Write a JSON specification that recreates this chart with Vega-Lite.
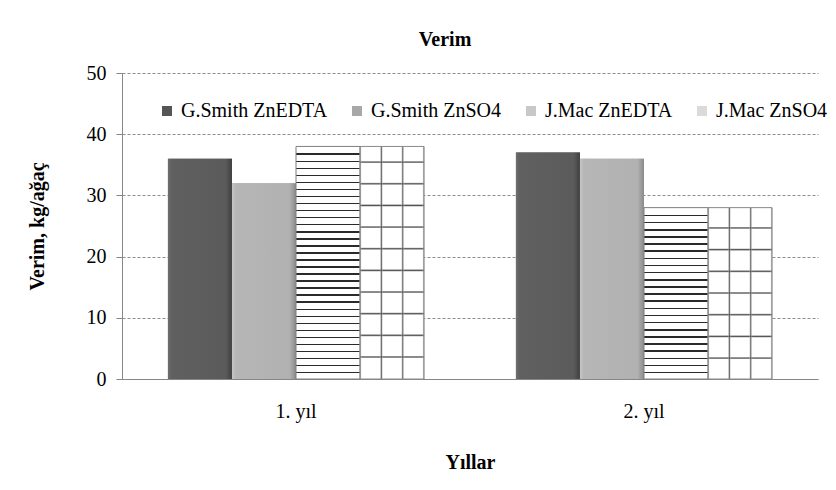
{
  "$schema": "https://vega.github.io/schema/vega-lite/v6.json",
  "autosize": {"type": "none"},
  "width": 696,
  "height": 306,
  "padding": {"left": 122, "top": 73, "right": 18, "bottom": 111},
  "background": "white",
  "title": {"text": "Verim", "font": "Liberation Serif", "fontSize": 20, "fontWeight": "bold", "color": "black", "offset": 13, "dx": -25},
  "config": {"view": {"stroke": null}, "font": "Liberation Serif", "legend": {"labelFont": "Liberation Serif"}},
  "data": {"values": [
    {"Yil": "1. yıl", "Seri": "G.Smith ZnEDTA", "Verim": 36},
    {"Yil": "1. yıl", "Seri": "G.Smith ZnSO4", "Verim": 32},
    {"Yil": "1. yıl", "Seri": "J.Mac ZnEDTA", "Verim": 38},
    {"Yil": "1. yıl", "Seri": "J.Mac ZnSO4", "Verim": 38},
    {"Yil": "2. yıl", "Seri": "G.Smith ZnEDTA", "Verim": 37},
    {"Yil": "2. yıl", "Seri": "G.Smith ZnSO4", "Verim": 36},
    {"Yil": "2. yıl", "Seri": "J.Mac ZnEDTA", "Verim": 28},
    {"Yil": "2. yıl", "Seri": "J.Mac ZnSO4", "Verim": 28}
  ]},
  "encoding": {
    "x": {"field": "Yil", "type": "nominal", "title": "Yıllar",
      "scale": {"paddingInner": 0.264, "paddingOuter": 0.132},
      "axis": {"labelAngle": 0, "ticks": false, "domainColor": "#868686", "labelFont": "Liberation Serif", "labelFontSize": 20, "labelColor": "black", "labelPadding": 22, "titleFont": "Liberation Serif", "titleFontSize": 20, "titleFontWeight": "bold", "titleColor": "black", "titlePadding": 31}},
    "xOffset": {"field": "Seri", "type": "nominal", "scale": {"domain": ["G.Smith ZnEDTA", "G.Smith ZnSO4", "J.Mac ZnEDTA", "J.Mac ZnSO4"], "paddingInner": 0, "paddingOuter": 0}},
    "y": {"field": "Verim", "type": "quantitative", "title": "Verim, kg/ağaç",
      "scale": {"domain": [0, 50]},
      "axis": {"values": [0, 10, 20, 30, 40, 50], "grid": true, "gridDash": [3, 2], "gridColor": "#8c8c8c", "domainColor": "#868686", "tickColor": "#868686", "tickSize": 6, "labelFont": "Liberation Serif", "labelFontSize": 20, "labelColor": "black", "labelPadding": 10, "titleFont": "Liberation Serif", "titleFontSize": 20, "titleFontWeight": "bold", "titleColor": "black", "titlePadding": 39}}
  },
  "layer": [
    {
      "mark": {"type": "bar"},
      "encoding": {
        "color": {"field": "Seri", "type": "nominal",
          "scale": {"domain": ["G.Smith ZnEDTA", "G.Smith ZnSO4", "J.Mac ZnEDTA", "J.Mac ZnSO4"], "range": ["#555555", "#a8a8a8", "#c8c8c8", "#dadada"]},
          "legend": {"orient": "none", "legendX": 35, "legendY": 28, "padding": 0, "direction": "horizontal", "title": null, "symbolType": "square", "symbolSize": 100, "symbolStrokeWidth": 0, "labelFont": "Liberation Serif", "labelFontSize": 20, "labelColor": "black", "labelOffset": 4, "columnPadding": 19}}
      }
    },
    {
      "transform": [{"filter": "datum.Seri === 'G.Smith ZnEDTA'"}],
      "mark": {"type": "bar", "color": {"gradient": "linear", "x1": 0, "y1": 0, "x2": 1, "y2": 0, "stops": [{"offset": 0, "color": "#6e6e6e"}, {"offset": 0.06, "color": "#606060"}, {"offset": 0.9, "color": "#5b5b5b"}, {"offset": 1, "color": "#404040"}]}}
    },
    {
      "transform": [{"filter": "datum.Seri === 'G.Smith ZnSO4'"}],
      "mark": {"type": "bar", "color": {"gradient": "linear", "x1": 0, "y1": 0, "x2": 1, "y2": 0, "stops": [{"offset": 0, "color": "#c6c6c6"}, {"offset": 0.06, "color": "#b6b6b6"}, {"offset": 0.9, "color": "#b1b1b1"}, {"offset": 1, "color": "#8a8a8a"}]}}
    },
    {
      "transform": [{"filter": "datum.Seri === 'J.Mac ZnEDTA' && datum.Yil === '1. yıl'"}],
      "mark": {"type": "bar", "stroke": "#7f7f7f", "strokeWidth": 1, "color": {"gradient": "linear", "x1": 0, "y1": 0, "x2": 0, "y2": 1, "stops": [
        {"offset": 0.0303, "color": "#ffffff"}, {"offset": 0.0303, "color": "#2a2a2a"}, {"offset": 0.0368, "color": "#2a2a2a"}, {"offset": 0.0368, "color": "#ffffff"},
        {"offset": 0.0606, "color": "#ffffff"}, {"offset": 0.0606, "color": "#2a2a2a"}, {"offset": 0.0671, "color": "#2a2a2a"}, {"offset": 0.0671, "color": "#ffffff"},
        {"offset": 0.0909, "color": "#ffffff"}, {"offset": 0.0909, "color": "#2a2a2a"}, {"offset": 0.0974, "color": "#2a2a2a"}, {"offset": 0.0974, "color": "#ffffff"},
        {"offset": 0.1212, "color": "#ffffff"}, {"offset": 0.1212, "color": "#2a2a2a"}, {"offset": 0.1277, "color": "#2a2a2a"}, {"offset": 0.1277, "color": "#ffffff"},
        {"offset": 0.1515, "color": "#ffffff"}, {"offset": 0.1515, "color": "#2a2a2a"}, {"offset": 0.1580, "color": "#2a2a2a"}, {"offset": 0.1580, "color": "#ffffff"},
        {"offset": 0.1818, "color": "#ffffff"}, {"offset": 0.1818, "color": "#2a2a2a"}, {"offset": 0.1883, "color": "#2a2a2a"}, {"offset": 0.1883, "color": "#ffffff"},
        {"offset": 0.2121, "color": "#ffffff"}, {"offset": 0.2121, "color": "#2a2a2a"}, {"offset": 0.2186, "color": "#2a2a2a"}, {"offset": 0.2186, "color": "#ffffff"},
        {"offset": 0.2424, "color": "#ffffff"}, {"offset": 0.2424, "color": "#2a2a2a"}, {"offset": 0.2489, "color": "#2a2a2a"}, {"offset": 0.2489, "color": "#ffffff"},
        {"offset": 0.2727, "color": "#ffffff"}, {"offset": 0.2727, "color": "#2a2a2a"}, {"offset": 0.2792, "color": "#2a2a2a"}, {"offset": 0.2792, "color": "#ffffff"},
        {"offset": 0.3030, "color": "#ffffff"}, {"offset": 0.3030, "color": "#2a2a2a"}, {"offset": 0.3095, "color": "#2a2a2a"}, {"offset": 0.3095, "color": "#ffffff"},
        {"offset": 0.3333, "color": "#ffffff"}, {"offset": 0.3333, "color": "#2a2a2a"}, {"offset": 0.3398, "color": "#2a2a2a"}, {"offset": 0.3398, "color": "#ffffff"},
        {"offset": 0.3636, "color": "#ffffff"}, {"offset": 0.3636, "color": "#2a2a2a"}, {"offset": 0.3701, "color": "#2a2a2a"}, {"offset": 0.3701, "color": "#ffffff"},
        {"offset": 0.3939, "color": "#ffffff"}, {"offset": 0.3939, "color": "#2a2a2a"}, {"offset": 0.4004, "color": "#2a2a2a"}, {"offset": 0.4004, "color": "#ffffff"},
        {"offset": 0.4242, "color": "#ffffff"}, {"offset": 0.4242, "color": "#2a2a2a"}, {"offset": 0.4307, "color": "#2a2a2a"}, {"offset": 0.4307, "color": "#ffffff"},
        {"offset": 0.4545, "color": "#ffffff"}, {"offset": 0.4545, "color": "#2a2a2a"}, {"offset": 0.4610, "color": "#2a2a2a"}, {"offset": 0.4610, "color": "#ffffff"},
        {"offset": 0.4848, "color": "#ffffff"}, {"offset": 0.4848, "color": "#2a2a2a"}, {"offset": 0.4913, "color": "#2a2a2a"}, {"offset": 0.4913, "color": "#ffffff"},
        {"offset": 0.5152, "color": "#ffffff"}, {"offset": 0.5152, "color": "#2a2a2a"}, {"offset": 0.5217, "color": "#2a2a2a"}, {"offset": 0.5217, "color": "#ffffff"},
        {"offset": 0.5455, "color": "#ffffff"}, {"offset": 0.5455, "color": "#2a2a2a"}, {"offset": 0.5520, "color": "#2a2a2a"}, {"offset": 0.5520, "color": "#ffffff"},
        {"offset": 0.5758, "color": "#ffffff"}, {"offset": 0.5758, "color": "#2a2a2a"}, {"offset": 0.5823, "color": "#2a2a2a"}, {"offset": 0.5823, "color": "#ffffff"},
        {"offset": 0.6061, "color": "#ffffff"}, {"offset": 0.6061, "color": "#2a2a2a"}, {"offset": 0.6126, "color": "#2a2a2a"}, {"offset": 0.6126, "color": "#ffffff"},
        {"offset": 0.6364, "color": "#ffffff"}, {"offset": 0.6364, "color": "#2a2a2a"}, {"offset": 0.6429, "color": "#2a2a2a"}, {"offset": 0.6429, "color": "#ffffff"},
        {"offset": 0.6667, "color": "#ffffff"}, {"offset": 0.6667, "color": "#2a2a2a"}, {"offset": 0.6732, "color": "#2a2a2a"}, {"offset": 0.6732, "color": "#ffffff"},
        {"offset": 0.6970, "color": "#ffffff"}, {"offset": 0.6970, "color": "#2a2a2a"}, {"offset": 0.7035, "color": "#2a2a2a"}, {"offset": 0.7035, "color": "#ffffff"},
        {"offset": 0.7273, "color": "#ffffff"}, {"offset": 0.7273, "color": "#2a2a2a"}, {"offset": 0.7338, "color": "#2a2a2a"}, {"offset": 0.7338, "color": "#ffffff"},
        {"offset": 0.7576, "color": "#ffffff"}, {"offset": 0.7576, "color": "#2a2a2a"}, {"offset": 0.7641, "color": "#2a2a2a"}, {"offset": 0.7641, "color": "#ffffff"},
        {"offset": 0.7879, "color": "#ffffff"}, {"offset": 0.7879, "color": "#2a2a2a"}, {"offset": 0.7944, "color": "#2a2a2a"}, {"offset": 0.7944, "color": "#ffffff"},
        {"offset": 0.8182, "color": "#ffffff"}, {"offset": 0.8182, "color": "#2a2a2a"}, {"offset": 0.8247, "color": "#2a2a2a"}, {"offset": 0.8247, "color": "#ffffff"},
        {"offset": 0.8485, "color": "#ffffff"}, {"offset": 0.8485, "color": "#2a2a2a"}, {"offset": 0.8550, "color": "#2a2a2a"}, {"offset": 0.8550, "color": "#ffffff"},
        {"offset": 0.8788, "color": "#ffffff"}, {"offset": 0.8788, "color": "#2a2a2a"}, {"offset": 0.8853, "color": "#2a2a2a"}, {"offset": 0.8853, "color": "#ffffff"},
        {"offset": 0.9091, "color": "#ffffff"}, {"offset": 0.9091, "color": "#2a2a2a"}, {"offset": 0.9156, "color": "#2a2a2a"}, {"offset": 0.9156, "color": "#ffffff"},
        {"offset": 0.9394, "color": "#ffffff"}, {"offset": 0.9394, "color": "#2a2a2a"}, {"offset": 0.9459, "color": "#2a2a2a"}, {"offset": 0.9459, "color": "#ffffff"},
        {"offset": 0.9697, "color": "#ffffff"}, {"offset": 0.9697, "color": "#2a2a2a"}, {"offset": 0.9762, "color": "#2a2a2a"}, {"offset": 0.9762, "color": "#ffffff"}
      ]}}
    },
    {
      "transform": [{"filter": "datum.Seri === 'J.Mac ZnEDTA' && datum.Yil === '2. yıl'"}],
      "mark": {"type": "bar", "stroke": "#7f7f7f", "strokeWidth": 1, "color": {"gradient": "linear", "x1": 0, "y1": 0, "x2": 0, "y2": 1, "stops": [
        {"offset": 0.0417, "color": "#ffffff"}, {"offset": 0.0417, "color": "#2a2a2a"}, {"offset": 0.0505, "color": "#2a2a2a"}, {"offset": 0.0505, "color": "#ffffff"},
        {"offset": 0.0833, "color": "#ffffff"}, {"offset": 0.0833, "color": "#2a2a2a"}, {"offset": 0.0921, "color": "#2a2a2a"}, {"offset": 0.0921, "color": "#ffffff"},
        {"offset": 0.1250, "color": "#ffffff"}, {"offset": 0.1250, "color": "#2a2a2a"}, {"offset": 0.1338, "color": "#2a2a2a"}, {"offset": 0.1338, "color": "#ffffff"},
        {"offset": 0.1667, "color": "#ffffff"}, {"offset": 0.1667, "color": "#2a2a2a"}, {"offset": 0.1755, "color": "#2a2a2a"}, {"offset": 0.1755, "color": "#ffffff"},
        {"offset": 0.2083, "color": "#ffffff"}, {"offset": 0.2083, "color": "#2a2a2a"}, {"offset": 0.2171, "color": "#2a2a2a"}, {"offset": 0.2171, "color": "#ffffff"},
        {"offset": 0.2500, "color": "#ffffff"}, {"offset": 0.2500, "color": "#2a2a2a"}, {"offset": 0.2588, "color": "#2a2a2a"}, {"offset": 0.2588, "color": "#ffffff"},
        {"offset": 0.2917, "color": "#ffffff"}, {"offset": 0.2917, "color": "#2a2a2a"}, {"offset": 0.3005, "color": "#2a2a2a"}, {"offset": 0.3005, "color": "#ffffff"},
        {"offset": 0.3333, "color": "#ffffff"}, {"offset": 0.3333, "color": "#2a2a2a"}, {"offset": 0.3421, "color": "#2a2a2a"}, {"offset": 0.3421, "color": "#ffffff"},
        {"offset": 0.3750, "color": "#ffffff"}, {"offset": 0.3750, "color": "#2a2a2a"}, {"offset": 0.3838, "color": "#2a2a2a"}, {"offset": 0.3838, "color": "#ffffff"},
        {"offset": 0.4167, "color": "#ffffff"}, {"offset": 0.4167, "color": "#2a2a2a"}, {"offset": 0.4255, "color": "#2a2a2a"}, {"offset": 0.4255, "color": "#ffffff"},
        {"offset": 0.4583, "color": "#ffffff"}, {"offset": 0.4583, "color": "#2a2a2a"}, {"offset": 0.4671, "color": "#2a2a2a"}, {"offset": 0.4671, "color": "#ffffff"},
        {"offset": 0.5000, "color": "#ffffff"}, {"offset": 0.5000, "color": "#2a2a2a"}, {"offset": 0.5088, "color": "#2a2a2a"}, {"offset": 0.5088, "color": "#ffffff"},
        {"offset": 0.5417, "color": "#ffffff"}, {"offset": 0.5417, "color": "#2a2a2a"}, {"offset": 0.5505, "color": "#2a2a2a"}, {"offset": 0.5505, "color": "#ffffff"},
        {"offset": 0.5833, "color": "#ffffff"}, {"offset": 0.5833, "color": "#2a2a2a"}, {"offset": 0.5921, "color": "#2a2a2a"}, {"offset": 0.5921, "color": "#ffffff"},
        {"offset": 0.6250, "color": "#ffffff"}, {"offset": 0.6250, "color": "#2a2a2a"}, {"offset": 0.6338, "color": "#2a2a2a"}, {"offset": 0.6338, "color": "#ffffff"},
        {"offset": 0.6667, "color": "#ffffff"}, {"offset": 0.6667, "color": "#2a2a2a"}, {"offset": 0.6755, "color": "#2a2a2a"}, {"offset": 0.6755, "color": "#ffffff"},
        {"offset": 0.7083, "color": "#ffffff"}, {"offset": 0.7083, "color": "#2a2a2a"}, {"offset": 0.7171, "color": "#2a2a2a"}, {"offset": 0.7171, "color": "#ffffff"},
        {"offset": 0.7500, "color": "#ffffff"}, {"offset": 0.7500, "color": "#2a2a2a"}, {"offset": 0.7588, "color": "#2a2a2a"}, {"offset": 0.7588, "color": "#ffffff"},
        {"offset": 0.7917, "color": "#ffffff"}, {"offset": 0.7917, "color": "#2a2a2a"}, {"offset": 0.8005, "color": "#2a2a2a"}, {"offset": 0.8005, "color": "#ffffff"},
        {"offset": 0.8333, "color": "#ffffff"}, {"offset": 0.8333, "color": "#2a2a2a"}, {"offset": 0.8421, "color": "#2a2a2a"}, {"offset": 0.8421, "color": "#ffffff"},
        {"offset": 0.8750, "color": "#ffffff"}, {"offset": 0.8750, "color": "#2a2a2a"}, {"offset": 0.8838, "color": "#2a2a2a"}, {"offset": 0.8838, "color": "#ffffff"},
        {"offset": 0.9167, "color": "#ffffff"}, {"offset": 0.9167, "color": "#2a2a2a"}, {"offset": 0.9255, "color": "#2a2a2a"}, {"offset": 0.9255, "color": "#ffffff"},
        {"offset": 0.9583, "color": "#ffffff"}, {"offset": 0.9583, "color": "#2a2a2a"}, {"offset": 0.9671, "color": "#2a2a2a"}, {"offset": 0.9671, "color": "#ffffff"}
      ]}}
    },
    {
      "transform": [{"filter": "datum.Seri === 'J.Mac ZnSO4' && datum.Yil === '1. yıl'"}],
      "mark": {"type": "bar", "color": {"gradient": "linear", "x1": 0, "y1": 0, "x2": 0, "y2": 1, "stops": [
        {"offset": 0.0614, "color": "#ffffff"}, {"offset": 0.0674, "color": "#4a4a4a"}, {"offset": 0.0734, "color": "#ffffff"},
        {"offset": 0.1545, "color": "#ffffff"}, {"offset": 0.1605, "color": "#4a4a4a"}, {"offset": 0.1665, "color": "#ffffff"},
        {"offset": 0.2476, "color": "#ffffff"}, {"offset": 0.2536, "color": "#4a4a4a"}, {"offset": 0.2596, "color": "#ffffff"},
        {"offset": 0.3407, "color": "#ffffff"}, {"offset": 0.3467, "color": "#4a4a4a"}, {"offset": 0.3527, "color": "#ffffff"},
        {"offset": 0.4338, "color": "#ffffff"}, {"offset": 0.4398, "color": "#4a4a4a"}, {"offset": 0.4458, "color": "#ffffff"},
        {"offset": 0.5269, "color": "#ffffff"}, {"offset": 0.5329, "color": "#4a4a4a"}, {"offset": 0.5389, "color": "#ffffff"},
        {"offset": 0.6200, "color": "#ffffff"}, {"offset": 0.6260, "color": "#4a4a4a"}, {"offset": 0.6320, "color": "#ffffff"},
        {"offset": 0.7131, "color": "#ffffff"}, {"offset": 0.7191, "color": "#4a4a4a"}, {"offset": 0.7251, "color": "#ffffff"},
        {"offset": 0.8062, "color": "#ffffff"}, {"offset": 0.8122, "color": "#4a4a4a"}, {"offset": 0.8182, "color": "#ffffff"},
        {"offset": 0.8993, "color": "#ffffff"}, {"offset": 0.9053, "color": "#4a4a4a"}, {"offset": 0.9113, "color": "#ffffff"}
      ]}}
    },
    {
      "transform": [{"filter": "datum.Seri === 'J.Mac ZnSO4' && datum.Yil === '2. yıl'"}],
      "mark": {"type": "bar", "color": {"gradient": "linear", "x1": 0, "y1": 0, "x2": 0, "y2": 1, "stops": [
        {"offset": 0.1104, "color": "#ffffff"}, {"offset": 0.1184, "color": "#4a4a4a"}, {"offset": 0.1264, "color": "#ffffff"},
        {"offset": 0.2370, "color": "#ffffff"}, {"offset": 0.2450, "color": "#4a4a4a"}, {"offset": 0.2530, "color": "#ffffff"},
        {"offset": 0.3636, "color": "#ffffff"}, {"offset": 0.3716, "color": "#4a4a4a"}, {"offset": 0.3796, "color": "#ffffff"},
        {"offset": 0.4902, "color": "#ffffff"}, {"offset": 0.4982, "color": "#4a4a4a"}, {"offset": 0.5062, "color": "#ffffff"},
        {"offset": 0.6168, "color": "#ffffff"}, {"offset": 0.6248, "color": "#4a4a4a"}, {"offset": 0.6328, "color": "#ffffff"},
        {"offset": 0.7434, "color": "#ffffff"}, {"offset": 0.7514, "color": "#4a4a4a"}, {"offset": 0.7594, "color": "#ffffff"},
        {"offset": 0.8700, "color": "#ffffff"}, {"offset": 0.8780, "color": "#4a4a4a"}, {"offset": 0.8860, "color": "#ffffff"}
      ]}}
    },
    {
      "transform": [{"filter": "datum.Seri === 'J.Mac ZnSO4'"}],
      "mark": {"type": "bar", "stroke": "#8a8a8a", "strokeWidth": 1, "color": {"gradient": "linear", "x1": 0, "y1": 0, "x2": 1, "y2": 0, "stops": [
        {"offset": 0, "color": "rgba(60,60,60,0.8)"}, {"offset": 0.03, "color": "rgba(255,255,255,0)"},
        {"offset": 0.303, "color": "rgba(255,255,255,0)"}, {"offset": 0.333, "color": "rgba(60,60,60,0.85)"}, {"offset": 0.363, "color": "rgba(255,255,255,0)"},
        {"offset": 0.637, "color": "rgba(255,255,255,0)"}, {"offset": 0.667, "color": "rgba(60,60,60,0.85)"}, {"offset": 0.697, "color": "rgba(255,255,255,0)"},
        {"offset": 0.97, "color": "rgba(255,255,255,0)"}, {"offset": 1, "color": "rgba(60,60,60,0.8)"}
      ]}}
    }
  ]
}
